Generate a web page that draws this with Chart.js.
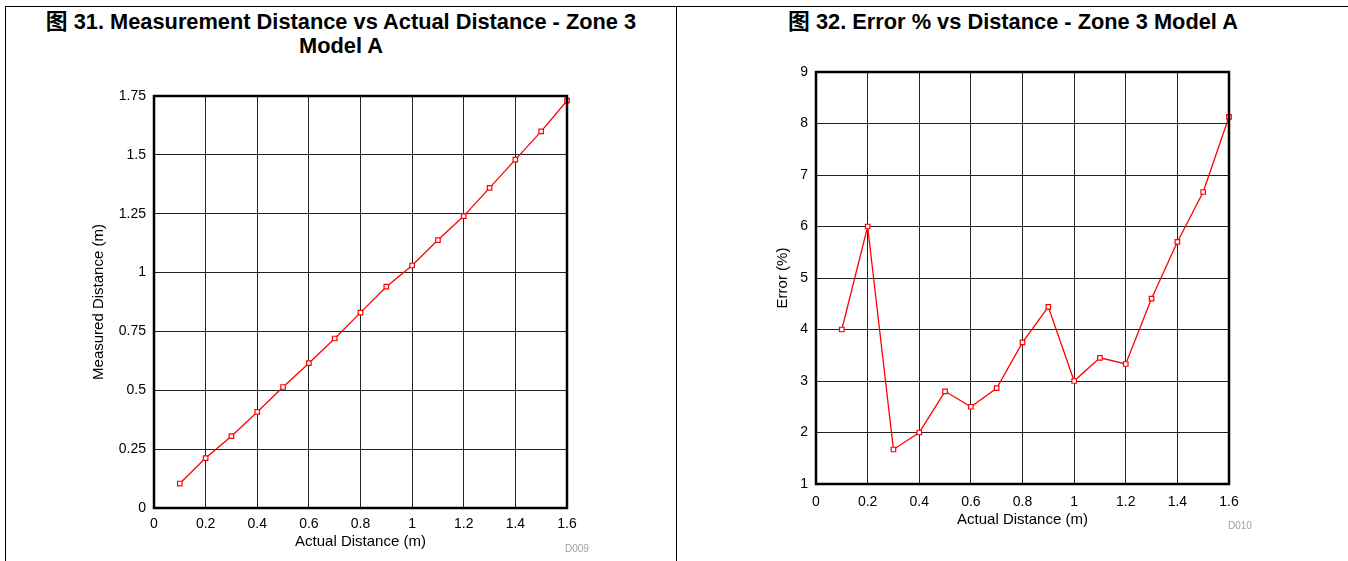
<!DOCTYPE html>
<html>
<head>
<meta charset="utf-8">
<script src="https://cdn.jsdelivr.net/npm/chart.js@4/dist/chart.umd.min.js"></script>
<style>
  body { margin: 0; background: #fff; width: 1348px; height: 561px; overflow: hidden; position: relative;
         font-family: "Liberation Sans", Arial, "Noto Sans CJK SC", sans-serif; }
  .frame { position: absolute; left: 5px; top: 6px; width: 1400px; height: 700px; border-top: 1px solid #000; border-left: 1px solid #000; }
  .divider { position: absolute; left: 676px; top: 6px; width: 1px; height: 600px; background: #000; }
  .title { position: absolute; font-weight: bold; font-size: 21.8px; line-height: 24px; text-align: center; color: #000;
           font-family: "Liberation Sans", Arial, "Noto Sans CJK SC", sans-serif; }
  .code { position: absolute; font-size: 10px; color: #a0a0a0; }
  .box { position: absolute; }
</style>
</head>
<body>
<div class="frame"></div>
<div class="divider"></div>

<div class="title" style="left:6px; top:10px; width:670px;">图 31. Measurement Distance vs Actual Distance - Zone 3<br>Model A</div>
<div class="title" style="left:677px; top:10px; width:672px;">图 32. Error % vs Distance - Zone 3 Model A</div>

<div class="box" style="left:70px; top:60px; width:530px; height:498px;"><canvas id="c1"></canvas></div>
<div class="box" style="left:750px; top:40px; width:530px; height:496px;"><canvas id="c2"></canvas></div>

<div class="code" style="left:565px; top:543px;">D009</div>
<div class="code" style="left:1228px; top:520px;">D010</div>

<script>
// actual distance (m)
const actualDistance = [0.1, 0.2, 0.3, 0.4, 0.5, 0.6, 0.7, 0.8, 0.9, 1.0, 1.1, 1.2, 1.3, 1.4, 1.5, 1.6];
// measured distance (m), figure 31
const measuredDistance = [0.104, 0.212, 0.305, 0.408, 0.514, 0.615, 0.72, 0.83, 0.94, 1.03, 1.138, 1.24, 1.36, 1.48, 1.6, 1.73];
// error (%), figure 32
const errorPct = [4.0, 6.0, 1.67, 2.0, 2.8, 2.5, 2.86, 3.75, 4.44, 3.0, 3.45, 3.33, 4.6, 5.7, 6.67, 8.13];

// tick labels
const xTicks = [0, 0.2, 0.4, 0.6, 0.8, 1, 1.2, 1.4, 1.6];
const yTicks1 = [0, 0.25, 0.5, 0.75, 1, 1.25, 1.5, 1.75];
const yTicks2 = [1, 2, 3, 4, 5, 6, 7, 8, 9];

const fontFamily = '"Liberation Sans", Arial, sans-serif';
Chart.defaults.font.family = fontFamily;
Chart.defaults.color = '#000';

// draws the thick black frame round the plot area
const framePlugin = {
  id: 'frame',
  afterDatasetsDraw(chart) {
    const { ctx, chartArea: a } = chart;
    ctx.save();
    ctx.strokeStyle = '#000';
    ctx.lineWidth = 2.5;
    ctx.strokeRect(a.left, a.top, a.right - a.left, a.bottom - a.top);
    ctx.restore();
  }
};

function makeChart(id, yValues, yTicks, yTitle, o) {
  const pts = actualDistance.map((x, i) => ({ x: x, y: yValues[i] }));
  return new Chart(document.getElementById(id), {
    type: 'line',
    data: {
      datasets: [{
        data: pts,
        borderColor: '#ff0000',
        borderWidth: 1.3,
        pointStyle: 'rect',
        pointRadius: 3.2,
        pointBorderWidth: 1.2,
        pointBorderColor: '#ff0000',
        pointBackgroundColor: '#ffffff',
        tension: 0,
        clip: false
      }]
    },
    options: {
      responsive: true,
      maintainAspectRatio: false,
      animation: false,
      layout: { padding: { top: o.padTop, right: o.padRight, left: 0, bottom: 0 } },
      plugins: { legend: { display: false }, tooltip: { enabled: false } },
      scales: {
        x: {
          type: 'linear',
          min: xTicks[0],
          max: xTicks[xTicks.length - 1],
          afterBuildTicks: s => { s.ticks = xTicks.map(v => ({ value: v })); },
          afterFit: s => { s.height = o.xHeight; },
          border: { display: false },
          grid: { color: '#222', lineWidth: 1, drawTicks: false },
          ticks: { font: { size: 14 }, color: '#000', padding: o.xTickPad, maxRotation: 0, callback: v => String(v) },
          title: { display: true, text: 'Actual Distance (m)', font: { size: 15 }, color: '#000', padding: { top: 0, bottom: 7 } }
        },
        y: {
          type: 'linear',
          min: yTicks[0],
          max: yTicks[yTicks.length - 1],
          afterBuildTicks: s => { s.ticks = yTicks.map(v => ({ value: v })); },
          afterFit: s => { s.width = o.yWidth; },
          border: { display: false },
          grid: { color: '#222', lineWidth: 1, drawTicks: false },
          ticks: { font: { size: 14 }, color: '#000', padding: 8, callback: v => String(v) },
          title: { display: true, text: yTitle, font: { size: 15 }, color: '#000', padding: { top: o.yTitlePad, bottom: 0 } }
        }
      }
    },
    plugins: [framePlugin]
  });
}

makeChart('c1', measuredDistance, yTicks1, 'Measured Distance (m)',
  { yWidth: 84, yTitlePad: 20, padTop: 36, padRight: 33, xHeight: 50, xTickPad: 8 });
makeChart('c2', errorPct, yTicks2, 'Error (%)',
  { yWidth: 66, yTitlePad: 24, padTop: 32, padRight: 51, xHeight: 52, xTickPad: 10 });
</script>
</body>
</html>
